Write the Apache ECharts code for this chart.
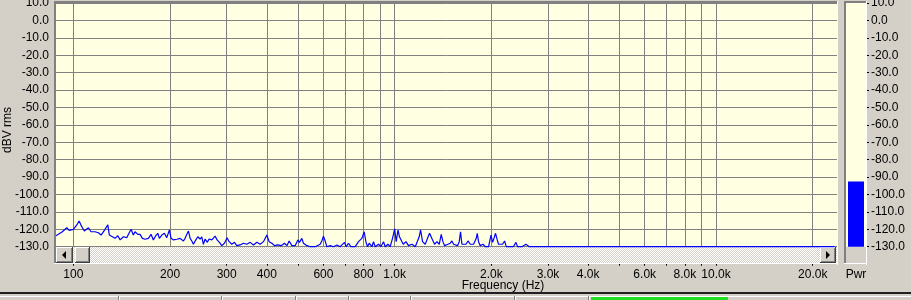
<!DOCTYPE html>
<html><head><meta charset="utf-8">
<script src="https://cdn.jsdelivr.net/npm/echarts@6/dist/echarts.min.js"></script>
<style>html,body{margin:0;padding:0;background:#d4d0c8;overflow:hidden}#c{width:911px;height:300px}</style>
</head><body><div id="c"></div>
<script>
// ---- data ----
const freqHz = [88.3,89.8,92.4,95.4,97.0,100,102.5,104.2,106.2,108.2,111.4,113.5,116.8,119.6,122.0,125.5,128.0,129.4,132.3,134.8,137.5,139.8,143.1,146.6,149.1,151.2,153.7,155.6,158.7,161.3,164.0,167.2,171.2,174.5,177.4,180.5,183.1,185.2,188.5,192.0,195.3,199.0,201.4,204.8,209.9,214.9,220.0,
222.7,225.5,228.1,230.9,233.7,236.4,240.5,244.0,248.0,251.0,253.9,257.1,261.3,264.5,269.7,276.2,280.1,284.8,289.7,295.2,301.0,305.3,311.3,317.1,322.6,330.4,338.3,346.7,355.0,363.5,372.4,381.3,390.5,395.2,400.1,406.7,414.7,422.5,432.9,443.3,453.9,461.8,469.5,478.7,490.1,499.6,505.4,514.1,520.1,532.9,545.7,565.6,
586.2,593.4,600.3,607.6,615.1,629.9,645.0,660.9,676.7,697.9,706.5,718.2,730.7,753.5,771.6,790.6,803.7,813.6,823.0,833.1,849.4,859.2,869.7,890.5,906.0,923.0,934.4,952.7,968.5,984.6,1000,1011,1024,1035,1048,1063,1084,1104,1132,1159,1173,1192,1204,1221,1245,1265,1284,1299,1312,1331,1354,1376,1396,1413,1429,
1437,1465,1489,1507,1525,1543,1569,1588,1603,1619,1638,1667,1691,1719,1740,1760,1781,1794,1807,1824,1846,1883,1914,1937,1960,1994,2017,2037,2060,2086,2105,2131,2166,2198,2225,2339,2385,2412,2490,2562,2592,2624,23400];
const levelDb = [-123.7,-122.9,-121.4,-119.1,-120.6,-120.0,-117.5,-115.2,-118.5,-121.0,-119.1,-121.4,-121.4,-122.0,-123.3,-120.0,-117.5,-123.3,-124.3,-125.2,-123.7,-126.1,-124.3,-124.8,-122.1,-120.0,-123.3,-121.4,-122.9,-122.9,-125.2,-125.7,-125.2,-122.9,-126.1,-123.7,-122.3,-125.2,-123.3,-122.3,-124.8,-120.4,-125.2,-126.1,-125.7,-125.2,-126.7,
-125.2,-122.9,-121.0,-125.2,-126.7,-128.6,-126.1,-124.3,-125.6,-124.3,-128.6,-125.6,-127.5,-125.6,-126.1,-123.9,-126.1,-127.5,-129.4,-128.0,-124.8,-127.1,-128.6,-127.5,-129.4,-129.0,-128.0,-128.6,-127.5,-129.0,-127.5,-128.6,-127.1,-126.1,-123.3,-127.1,-128.0,-129.4,-129.0,-129.4,-128.0,-129.4,-126.7,-129.4,-129.4,-126.1,-127.5,-125.2,-128.0,-129.4,-130,-130,
-128.6,-126.7,-123.9,-126.7,-130,-129.4,-130,-129.0,-130,-127.5,-130,-128.0,-130,-130,-127.1,-125.2,-121.4,-127.1,-130,-128.0,-130,-127.1,-130,-128.6,-130,-127.1,-130,-128.6,-130,-125.2,-119.8,-127.1,-120.4,-124.3,-125.2,-128.6,-127.1,-129.4,-128.6,-130,-129.4,-124.3,-120.4,-127.1,-128.6,-125.2,-122.3,-122.3,-126.1,-128.6,-127.1,-128.6,-122.9,-127.1,-129.4,
-130,-128.6,-128.0,-126.7,-128.6,-127.5,-129.4,-127.1,-121.4,-128.6,-129.4,-128.6,-126.7,-128.6,-128.6,-128.6,-127.5,-125.2,-122.3,-127.1,-129.4,-128.6,-130,-129.0,-130,-123.3,-127.5,-125.2,-122.3,-126.1,-128.6,-129.4,-128.6,-126.7,-130,-130,-127.5,-130,-130,-128.6,-128.0,-130,-130];
const freqTickValues = [100,200,300,400,500,600,700,800,900,1000,2000,3000,4000,5000,6000,7000,8000,9000,10000,20000];
const freqLabelValues = [100,200,300,400,600,800,1000,2000,3000,4000,6000,8000,10000,20000];
const meterCategories = ['Pwr'];
const meterLevelDb = [-92.6];
const dbMin = -130, dbMax = 10, dbStep = 10;
const freqMin = 88.3, freqMax = 23800;
const xAxisTitle = 'Frequency (Hz)';
const yAxisTitle = 'dBV rms';

// ---- drawing (x axis is logarithmic: positions are log10 of frequency) ----
const lg = Math.log10;
const chart = echarts.init(document.getElementById('c'), null, {renderer: 'canvas'});
const pc = document.createElement('canvas'); pc.width = 2; pc.height = 2;
const pctx = pc.getContext('2d');
pctx.fillStyle = '#d4d0c8'; pctx.fillRect(0,0,2,2);
pctx.fillStyle = '#ffffff'; pctx.fillRect(0,0,1,1); pctx.fillRect(1,1,1,1);
const hatch = {image: pc, repeat: 'repeat'};

const FONT = 'Liberation Sans, Arial, sans-serif';
function rect(x,y,w,h,fill,z){return {type:'rect',shape:{x:x,y:y,width:w,height:h},style:{fill:fill},z:z||1,silent:true};}
function button(x,y,w,h){
  return [rect(x,y,w,h,'#d4d0c8',2), rect(x,y,w,1,'#ffffff',3), rect(x,y,1,h,'#ffffff',3),
          rect(x,y+h-1,w,1,'#404040',3), rect(x+w-1,y,1,h,'#404040',3),
          rect(x+1,y+h-2,w-2,1,'#808080',3), rect(x+w-2,y+1,1,h-2,'#808080',3)];
}
const g = [];
g.push(rect(56,247,781,16,hatch,1));
g.push(...button(56,247,17,16));
g.push({type:'polygon',shape:{points:[[66,251],[66,259],[62,255]]},style:{fill:'#000'},z:4,silent:true});
g.push(...button(75,247,15,16));
g.push(...button(820,247,16,16));
g.push({type:'polygon',shape:{points:[[826,251],[826,259],[830,255]]},style:{fill:'#000'},z:4,silent:true});
g.push(rect(54,1,2,263,'#808080',5), rect(54,1,783,2,'#808080',5), rect(837,1,1,264,'#ffffff',5), rect(54,263,784,1,'#ffffff',5));
g.push(rect(846,247,20,16,'#d4d0c8',1));
g.push(rect(844,1,2,263,'#808080',5), rect(844,1,23,2,'#808080',5), rect(866,1,1,264,'#ffffff',5), rect(844,263,23,1,'#ffffff',5));
g.push(rect(0,292,911,2,'#202020',1), rect(0,296,911,1,'#ffffff',1));
[118,221,295,348,410,514,588].forEach(x=>{g.push(rect(x,296,1,4,'#808080',1), rect(x+1,296,1,4,'#ffffff',1));});
g.push(rect(591,297,137,3,'#22dd22',1));
// axis titles
g.push({type:'text', x: 503, y: 286, z: 6, silent: true,
        style: {text: xAxisTitle, fill: '#000', font: '12px ' + FONT, align: 'center', verticalAlign: 'middle'}});
g.push({type:'text', x: 8, y: 130, rotation: Math.PI / 2, z: 6, silent: true,
        style: {text: yAxisTitle, fill: '#000', font: '12px ' + FONT, align: 'center', verticalAlign: 'middle'}});

const fmtFreq = v => { const f = Math.round(Math.pow(10, v)); return f >= 1000 ? (f/1000).toFixed(1) + 'k' : String(f); };

chart.setOption({
  animation: false,
  backgroundColor: '#d4d0c8',
  textStyle: {fontFamily: FONT},
  grid: [
    {left: 56, top: 3, width: 781, height: 243.7, show: true, backgroundColor: '#ffffe1', borderWidth: 0,
     containLabel: false, outerBoundsMode: 'none'},
    {left: 846, top: 3, width: 20, height: 243.7, show: true, backgroundColor: '#ffffe1', borderWidth: 0,
     containLabel: false, outerBoundsMode: 'none'}
  ],
  xAxis: [
    {type: 'value', gridIndex: 0, position: 'bottom', min: lg(freqMin), max: lg(freqMax), offset: 16,
     axisLine: {show: false, onZero: false},
     axisTick: {show: true, length: 3, customValues: freqTickValues.map(lg), lineStyle: {color: '#000'}},
     axisLabel: {customValues: freqLabelValues.map(lg), margin: 6, fontSize: 12, color: '#000', fontFamily: FONT,
       formatter: fmtFreq},
     splitLine: {show: true, lineStyle: {color: '#808080', width: 1}}},
    {type: 'category', gridIndex: 1, position: 'bottom', data: meterCategories, offset: 16,
     axisLine: {show: false, onZero: false}, axisTick: {show: false}, splitLine: {show: false},
     axisLabel: {margin: 6, fontSize: 12, color: '#000', fontFamily: FONT}}
  ],
  yAxis: [
    {type: 'value', gridIndex: 0, min: dbMin, max: dbMax, interval: dbStep,
     axisLine: {show: false, onZero: false}, axisTick: {show: false},
     axisLabel: {margin: 7, fontSize: 12, color: '#000', fontFamily: FONT, formatter: v => v.toFixed(1)},
     splitLine: {show: true, lineStyle: {color: '#808080', width: 1}}},
    {type: 'value', gridIndex: 1, position: 'right', min: dbMin, max: dbMax, interval: dbStep,
     axisLine: {show: false, onZero: false},
     axisTick: {show: true, length: 3, lineStyle: {color: '#000'}},
     axisLabel: {margin: 5, fontSize: 12, color: '#000', fontFamily: FONT, formatter: v => v.toFixed(1)},
     splitLine: {show: false}}
  ],
  graphic: g,
  series: [
    {type: 'line', xAxisIndex: 0, yAxisIndex: 0, z: 10, clip: false, showSymbol: false, symbol: 'none',
     lineStyle: {color: '#0000ff', width: 1.2},
     data: freqHz.map((f, i) => [lg(f), levelDb[i]])},
    {type: 'custom', xAxisIndex: 1, yAxisIndex: 1, z: 10,
     data: meterLevelDb.map((v, i) => [i, v]),
     renderItem: (params, api) => {
       const top = api.coord([api.value(0), api.value(1)]);
       const base = api.coord([api.value(0), dbMin]);
       const w = api.size([1, 0])[0] * 0.8;
       return {type: 'rect', shape: {x: top[0] - w/2, y: top[1], width: w, height: base[1] - top[1]},
               style: {fill: '#0000ff'}};
     }}
  ]
});
</script></body></html>
